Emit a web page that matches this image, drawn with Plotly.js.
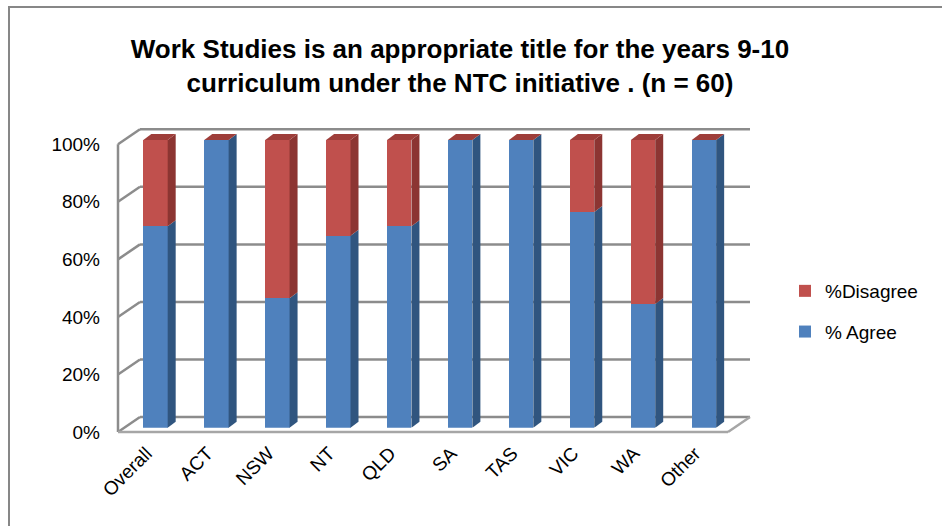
<!DOCTYPE html>
<html>
<head>
<meta charset="utf-8">
<script src="https://cdn.plot.ly/plotly-3.0.1.min.js"></script>
<style>html,body{margin:0;padding:0;background:#fff;}#chart{width:942px;height:526px;}</style>
</head>
<body>
<div id="chart"></div>
<script>
// ---- data ----
const categories = ['Overall', 'ACT', 'NSW', 'NT', 'QLD', 'SA', 'TAS', 'VIC', 'WA', 'Other'];
const agree      = [0.70, 1.00, 0.45, 0.667, 0.70, 1.00, 1.00, 0.75, 0.43, 1.00];
const disagree   = [0.30, 0.00, 0.55, 0.333, 0.30, 0.00, 0.00, 0.25, 0.57, 0.00];
const yTickVals  = [0, 0.2, 0.4, 0.6, 0.8, 1.0];
const yTickText  = ['0%', '20%', '40%', '60%', '80%', '100%'];
const seriesNames = ['% Agree', '%Disagree'];

// ---- layout geometry (pixels) ----
const W = 942, H = 526;
const px = x => x / W;
const py = y => 1 - y / H;
const BAR_W = 0.4;
const X_UNIT = 60.94;   // px per category
const Y_UNIT = 287.7;   // px per 100%
const DEPTH_X = 8 / X_UNIT, DEPTH_Y = 6 / Y_UNIT;     // bar depth in data units
const barPlane = {x0: 125.03, x1: 734.43, y0: 427.7};
const Y_TOP = 1.05;
const front = {x: 118, y0: 432, xr: 728};
const back  = {x: 140, y0: 417, xr: 750};

const idx = categories.map((c, i) => i);
const COLORS = {agree: '#4F81BD', disagree: '#C0504D', agreeSide: '#30557F', disagreeSide: '#8C3532', top: '#9E3E3A'};

const traces = [
  {type: 'bar', name: seriesNames[0], x: idx, y: agree, width: BAR_W, xaxis: 'x2', yaxis: 'y2',
   marker: {color: COLORS.agree, line: {width: 0}}, legendgroup: 'a', legendrank: 2, hoverinfo: 'skip'},
  {type: 'bar', name: seriesNames[1], x: idx, y: disagree, width: BAR_W, xaxis: 'x2', yaxis: 'y2',
   marker: {color: COLORS.disagree, line: {width: 0}}, legendgroup: 'd', legendrank: 1, hoverinfo: 'skip'},
  {type: 'scatter', x: [], y: [], xaxis: 'x3', yaxis: 'y3', showlegend: false, hoverinfo: 'skip'}
];

const shapes = [];
const gridColor = '#8C8C8C';
// back wall grid lines + left wall diagonals
yTickVals.forEach(t => {
  const yb = back.y0 - Y_UNIT * t;
  const yf = front.y0 - Y_UNIT * t;
  shapes.push({type: 'line', xref: 'paper', yref: 'paper', layer: 'below',
    x0: px(back.x), x1: px(back.xr), y0: py(yb), y1: py(yb), line: {color: gridColor, width: 2.5}});
  shapes.push({type: 'line', xref: 'paper', yref: 'paper', layer: 'below',
    x0: px(front.x), x1: px(back.x), y0: py(yf), y1: py(yb), line: {color: gridColor, width: 2.5}});
});
// left wall front edge
shapes.push({type: 'line', xref: 'paper', yref: 'paper', layer: 'below',
  x0: px(front.x), x1: px(front.x), y0: py(front.y0), y1: py(front.y0 - Y_UNIT), line: {color: gridColor, width: 2.5}});
// floor front edge and right edge
shapes.push({type: 'line', xref: 'paper', yref: 'paper', layer: 'below',
  x0: px(front.x), x1: px(front.xr), y0: py(front.y0), y1: py(front.y0), line: {color: '#A6A6A6', width: 2.5}});
shapes.push({type: 'line', xref: 'paper', yref: 'paper', layer: 'below',
  x0: px(front.xr), x1: px(back.xr), y0: py(front.y0), y1: py(back.y0), line: {color: '#A6A6A6', width: 2.5}});
// outer chart border
shapes.push({type: 'path', xref: 'paper', yref: 'paper', layer: 'below',
  path: `M ${px(9)},${py(H + 2)} L ${px(9)},${py(7)} L ${px(W + 2)},${py(7)}`,
  line: {color: '#878787', width: 2}});

// 3-D faces of bars, derived from the data
idx.forEach(i => {
  const xl = i - BAR_W / 2, xr = i + BAR_W / 2;
  const segs = [[0, agree[i], COLORS.agreeSide], [agree[i], agree[i] + disagree[i], COLORS.disagreeSide]];
  segs.forEach(([y0, y1, col]) => {
    if (y1 - y0 <= 0) return;
    shapes.push({type: 'path', xref: 'x2', yref: 'y2', line: {width: 0}, fillcolor: col,
      path: `M ${xr},${y0} L ${xr + DEPTH_X},${y0 + DEPTH_Y} L ${xr + DEPTH_X},${y1 + DEPTH_Y} L ${xr},${y1} Z`});
  });
  const top = agree[i] + disagree[i];
  shapes.push({type: 'path', xref: 'x2', yref: 'y2', line: {width: 0}, fillcolor: COLORS.top,
    path: `M ${xl},${top} L ${xl + DEPTH_X},${top + DEPTH_Y} L ${xr + DEPTH_X},${top + DEPTH_Y} L ${xr},${top} Z`});
});

const FONT = 'Liberation Sans, Arial, sans-serif';
const layout = {
  width: W, height: H,
  margin: {l: 0, r: 0, t: 0, b: 0},
  paper_bgcolor: '#ffffff', plot_bgcolor: 'rgba(0,0,0,0)',
  font: {family: FONT, color: '#000000', size: 19},
  title: {
    text: 'Work Studies is an appropriate title for the years 9-10<br>curriculum under the NTC initiative . (n = 60)',
    font: {family: FONT, size: 26, color: '#000000', weight: 'bold'},
    x: px(460), xanchor: 'center', y: py(58), yanchor: 'top'
  },
  barmode: 'stack',
  showlegend: true,
  legend: {x: px(785), xanchor: 'left', y: py(272), yanchor: 'top', traceorder: 'grouped',
    tracegroupgap: 13, font: {family: FONT, size: 19, color: '#000'}, bgcolor: 'rgba(0,0,0,0)'},
  xaxis2: {domain: [px(barPlane.x0), px(barPlane.x1)], range: [-0.5, 9.5], anchor: 'y2',
    tickvals: idx, ticktext: categories, tickangle: -45, showgrid: false, zeroline: false, showline: false,
    ticks: '', ticklabelstandoff: 10, ticklabelshift: -9,
    tickfont: {family: FONT, size: 19, color: '#000'}, fixedrange: true},
  yaxis2: {domain: [py(barPlane.y0), py(barPlane.y0 - Y_UNIT * Y_TOP)], range: [0, Y_TOP], anchor: 'x2',
    showgrid: false, zeroline: false, showline: false, showticklabels: false, ticks: '', fixedrange: true},
  xaxis3: {domain: [px(front.x), px(front.xr)], range: [0, 1], anchor: 'y3', visible: false, fixedrange: true},
  yaxis3: {domain: [py(front.y0), py(front.y0 - Y_UNIT)], range: [0, 1], anchor: 'x3',
    tickvals: yTickVals, ticktext: yTickText, showgrid: false, zeroline: false, showline: false, ticks: '',
    ticklabelstandoff: 17, tickfont: {family: FONT, size: 19, color: '#000'}, fixedrange: true},
  shapes: shapes,
  hovermode: false
};

Plotly.newPlot('chart', traces, layout, {displayModeBar: false, staticPlot: true});
</script>
</body>
</html>
